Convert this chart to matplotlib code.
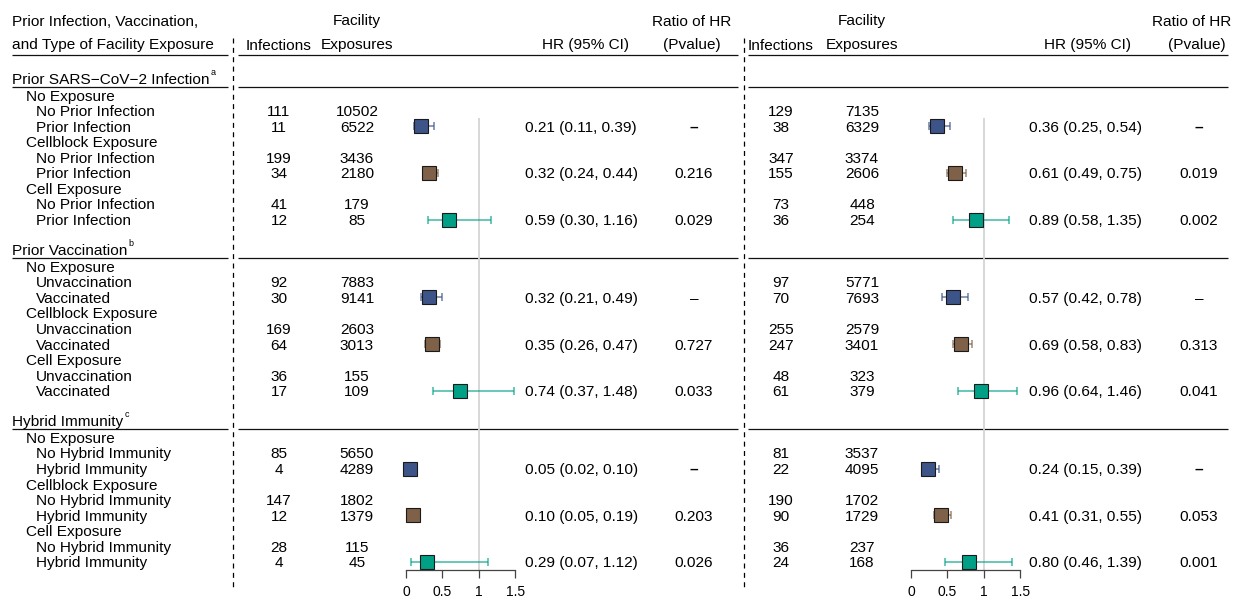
import matplotlib
matplotlib.use('Agg')
import matplotlib.pyplot as plt

plt.rcParams['font.family'] = ['Liberation Sans', 'DejaVu Sans']

W, H = 1239, 599
FS = 11.1

# ---------------- data ----------------
sections = ["Prior SARS\u2212CoV\u22122 Infection", "Prior Vaccination", "Hybrid Immunity"]
section_marks = ["a", "b", "c"]
exposures = ["No Exposure", "Cellblock Exposure", "Cell Exposure"]
group_labels = [["No Prior Infection", "Prior Infection"],
                ["Unvaccination", "Vaccinated"],
                ["No Hybrid Immunity", "Hybrid Immunity"]]

left_infections = [[111, 11, 199, 34, 41, 12],
                   [92, 30, 169, 64, 36, 17],
                   [85, 4, 147, 12, 28, 4]]
left_exposures = [[10502, 6522, 3436, 2180, 179, 85],
                  [7883, 9141, 2603, 3013, 155, 109],
                  [5650, 4289, 1802, 1379, 115, 45]]
left_hr = [[0.21, 0.32, 0.59], [0.32, 0.35, 0.74], [0.05, 0.10, 0.29]]
left_lo = [[0.11, 0.24, 0.30], [0.21, 0.26, 0.37], [0.02, 0.05, 0.07]]
left_hi = [[0.39, 0.44, 1.16], [0.49, 0.47, 1.48], [0.10, 0.19, 1.12]]
left_p = [["\u2013", "0.216", "0.029"], ["\u2013", "0.727", "0.033"], ["\u2013", "0.203", "0.026"]]

right_infections = [[129, 38, 347, 155, 73, 36],
                    [97, 70, 255, 247, 48, 61],
                    [81, 22, 190, 90, 36, 24]]
right_exposures = [[7135, 6329, 3374, 2606, 448, 254],
                   [5771, 7693, 2579, 3401, 323, 379],
                   [3537, 4095, 1702, 1729, 237, 168]]
right_hr = [[0.36, 0.61, 0.89], [0.57, 0.69, 0.96], [0.24, 0.41, 0.80]]
right_lo = [[0.25, 0.49, 0.58], [0.42, 0.58, 0.64], [0.15, 0.31, 0.46]]
right_hi = [[0.54, 0.75, 1.35], [0.78, 0.83, 1.46], [0.39, 0.55, 1.39]]
right_p = [["\u2013", "0.019", "0.002"], ["\u2013", "0.313", "0.041"], ["\u2013", "0.053", "0.001"]]

colors = ["#3C5488", "#7E6148", "#00A087"]
xticks = [0, 0.5, 1, 1.5]
xtick_labels = ["0", "0.5", "1", "1.5"]

# ---------------- layout ----------------
Y0, DY = 79.5, 15.56


def ypx(k):
    return Y0 + DY * k


panels = [
    dict(inf=left_infections, exp=left_exposures, hr=left_hr, lo=left_lo, hi=left_hi, p=left_p,
         x_inf=279, x_exp=357, x_hr=525, x_hrh=585, x_p=694, x_ph1=692, x_ph2=692, x0=406,
         seg=(238, 738)),
    dict(inf=right_infections, exp=right_exposures, hr=right_hr, lo=right_lo, hi=right_hi, p=right_p,
         x_inf=781, x_exp=862, x_hr=1029, x_hrh=1087, x_p=1199, x_ph1=1192, x_ph2=1197, x0=911,
         seg=(748, 1228)),
]
PXU = 72.9  # pixels per HR unit
AXIS_Y = 570

fig = plt.figure(figsize=(W / 100, H / 100), dpi=100)
ax0 = fig.add_axes([0, 0, 1, 1])
ax0.set_xlim(0, W)
ax0.set_ylim(H, 0)
ax0.axis('off')


def txt(x, y, s, ha='left', **kw):
    return ax0.text(x, y + 5.5, s, ha=ha, va='baseline', fontsize=FS, color='black', **kw)


# headers
txt(12, 20, "Prior Infection, Vaccination,")
txt(12, 44, "and Type of Facility Exposure")
for pn in panels:
    txt(pn['x_exp'], 20, "Facility", ha='center')
    txt(pn['x_inf'], 44, "Infections", ha='center')
    txt(pn['x_exp'], 44, "Exposures", ha='center')
    txt(pn['x_hrh'], 44, "HR (95% CI)", ha='center')
    txt(pn['x_ph1'], 20, "Ratio of HR", ha='center')
    txt(pn['x_ph2'], 44, "(Pvalue)", ha='center')

segments = [(12, 228), panels[0]['seg'], panels[1]['seg']]


def hline(y):
    for a, b in segments:
        ax0.plot([a, b], [y, y], color='#111111', lw=0.9, solid_capstyle='butt')


hline(55)

sec_texts = []
for s in range(3):
    base = 11 * s
    t = txt(12, ypx(base) - 1.5, sections[s])
    sec_texts.append(t)
    hline(ypx(base) + 7.5)
    for j in range(3):
        ke = base + 1 + 3 * j
        txt(26, ypx(ke), exposures[j])
        for r in range(2):
            kr = ke + 1 + r
            txt(36, ypx(kr), group_labels[s][r])
            for pn in panels:
                txt(pn['x_inf'], ypx(kr), str(pn['inf'][s][2 * j + r]), ha='center')
                txt(pn['x_exp'], ypx(kr), str(pn['exp'][s][2 * j + r]), ha='center')
        km = ke + 2
        for pn in panels:
            hr, lo, hi = pn['hr'][s][j], pn['lo'][s][j], pn['hi'][s][j]
            txt(pn['x_hr'], ypx(km), f"{hr:.2f} ({lo:.2f}, {hi:.2f})")
            pv = pn['p'][s][j]
            bold = (pv == "\u2013" and s != 1)
            txt(pn['x_p'], ypx(km), pv, ha='center', fontweight='bold' if bold else 'normal')

# dashed separators
for xd in (233, 744):
    ax0.plot([xd, xd], [38, 590], color='black', lw=0.9, linestyle=(0, (4, 3.5)))

# superscripts
fig.canvas.draw()
rend = fig.canvas.get_renderer()
for s, t in enumerate(sec_texts):
    bb = t.get_window_extent(renderer=rend)
    ax0.text(bb.x1 + 1.0, ypx(11 * s) - 1.5 - 3.0, section_marks[s], fontsize=6.5,
             ha='left', va='baseline', color='black')

# forest panels
k_bottom = (AXIS_Y - Y0) / DY
k_top = (0 - Y0) / DY
for pn in panels:
    left = pn['x0'] / W
    width = 1.5 * PXU / W
    ax = fig.add_axes([left, (H - AXIS_Y) / H, width, AXIS_Y / H])
    ax.set_xlim(0, 1.5)
    ax.set_ylim(k_bottom, k_top)
    ax.patch.set_alpha(0)
    for sp in ('top', 'right', 'left'):
        ax.spines[sp].set_visible(False)
    ax.spines['bottom'].set_color('#444444')
    ax.spines['bottom'].set_linewidth(0.9)
    ax.spines['bottom'].set_bounds(0, 1.5)
    ax.set_yticks([])
    ax.set_xticks(xticks)
    ax.set_xticklabels(xtick_labels, fontsize=10)
    ax.tick_params(axis='x', direction='out', length=5.5, width=0.9, color='#444444', pad=5)
    ax.vlines(1, 2.5, k_bottom, color='#d4d4d4', lw=1.3, zorder=0)
    for s in range(3):
        for j in range(3):
            km = 11 * s + 3 + 3 * j
            hr, lo, hi = pn['hr'][s][j], pn['lo'][s][j], pn['hi'][s][j]
            eb = ax.errorbar([hr], [km], xerr=[[hr - lo], [hi - hr]], fmt='none',
                             ecolor=colors[j], elinewidth=1.1, capsize=2.6, capthick=1.1,
                             alpha=0.75, zorder=2)
            for art in eb.lines[1] + eb.lines[2]:
                art.set_clip_on(False)
            ax.plot([hr], [km], marker='s', markersize=9.8, markerfacecolor=colors[j],
                    markeredgecolor='#1a1a1a', markeredgewidth=0.8, linestyle='none',
                    zorder=3, clip_on=False)

fig.savefig('out.png', dpi=100)
